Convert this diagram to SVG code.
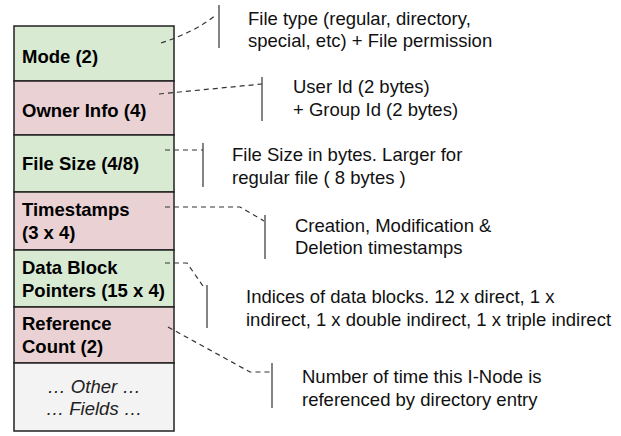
<svg xmlns="http://www.w3.org/2000/svg" width="621" height="436" viewBox="0 0 621 436">
<style>
.g{fill:#d9ead3}.p{fill:#ead1d3}.o{fill:#f3f3f3}
.cell{stroke:#222;stroke-width:1.5}
.lb{font-family:"Liberation Sans",Arial,sans-serif;font-size:18.5px;font-weight:bold;fill:#000}
.it{font-family:"Liberation Sans",Arial,sans-serif;font-size:18.5px;font-style:italic;fill:#222;text-anchor:middle}
.tx{font-family:"Liberation Sans",Arial,sans-serif;font-size:18.5px;fill:#111}
.d{fill:none;stroke:#333;stroke-width:1.2;stroke-dasharray:5,4}
.b{fill:none;stroke:#333;stroke-width:1.2}
</style>
<rect width="621" height="436" fill="#fff"/>
<g id="mode"><rect class="cell g" x="14" y="26" width="160" height="55"/><text class="lb" x="22" y="63">Mode (2)</text></g>
<g id="owner"><rect class="cell p" x="14" y="81" width="160" height="54"/><text class="lb" x="22" y="117">Owner Info (4)</text></g>
<g id="filesize"><rect class="cell g" x="14" y="135" width="160" height="57"/><text class="lb" x="22" y="170">File Size (4/8)</text></g>
<g id="timestamps"><rect class="cell p" x="14" y="192" width="160" height="58"/><text class="lb" x="22" y="216">Timestamps</text><text class="lb" x="22" y="239">(3 x 4)</text></g>
<g id="datablock"><rect class="cell g" x="14" y="250" width="160" height="57"/><text class="lb" x="22" y="274">Data Block</text><text class="lb" x="22" y="297">Pointers (15 x 4)</text></g>
<g id="refcount"><rect class="cell p" x="14" y="307" width="160" height="56"/><text class="lb" x="22" y="330">Reference</text><text class="lb" x="22" y="353">Count (2)</text></g>
<g id="other"><rect class="cell o" x="14" y="363" width="160" height="68"/><text class="it" x="94" y="393">… Other …</text><text class="it" x="94" y="415">… Fields …</text></g>
<g id="connectors">
<path class="d" d="M161,43 Q195,32 216,15"/><path class="b" d="M219,5 V48"/>
<path class="d" d="M159,94 L262,84"/><path class="b" d="M262,77 V121"/>
<path class="d" d="M165,150 H203"/><path class="b" d="M203,143 V187"/>
<path class="d" d="M165,207 H240 L264,221"/><path class="b" d="M265,215 V259"/>
<path class="d" d="M165,263 H187 L205,289"/><path class="b" d="M207,285 V328"/>
<path class="d" d="M168,327 L250,372 H272"/><path class="b" d="M272,363 V408"/>
</g>
<g id="notes">
<text class="tx" x="248" y="25">File type (regular, directory,</text>
<text class="tx" x="248" y="47">special, etc) + File permission</text>
<text class="tx" x="293" y="93">User Id (2 bytes)</text>
<text class="tx" x="293" y="116">+ Group Id (2 bytes)</text>
<text class="tx" x="232" y="161">File Size in bytes. Larger for</text>
<text class="tx" x="232" y="184">regular file ( 8 bytes )</text>
<text class="tx" x="295" y="232">Creation, Modification &amp;</text>
<text class="tx" x="295" y="254">Deletion timestamps</text>
<text class="tx" x="246" y="303">Indices of data blocks. 12 x direct, 1 x</text>
<text class="tx" x="246" y="326">indirect, 1 x double indirect, 1 x triple indirect</text>
<text class="tx" x="302" y="383">Number of time this I-Node is</text>
<text class="tx" x="302" y="406">referenced by directory entry</text>
</g>
</svg>
